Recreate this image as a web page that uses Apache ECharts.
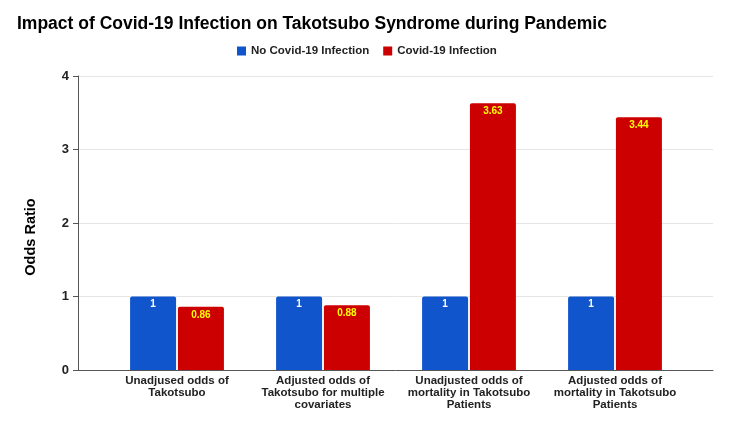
<!DOCTYPE html>
<html><head><meta charset="utf-8">
<script src="https://cdn.jsdelivr.net/npm/echarts@6/dist/echarts.min.js"></script>
<style>html,body{margin:0;padding:0;background:#fff}#c{width:750px;height:427px}</style>
</head><body><div id="c"></div>
<script>
const categories = ["Unadjused odds of\nTakotsubo", "Adjusted odds of\nTakotsubo for multiple\ncovariates", "Unadjusted odds of\nmortality in Takotsubo\nPatients", "Adjusted odds of\nmortality in Takotsubo\nPatients"];
const noCovid = [1, 1, 1, 1];
const covid = [0.86, 0.88, 3.63, 3.44];
const yTicks = [0, 1, 2, 3, 4];
const FONT = '"Liberation Sans", Arial, sans-serif';
const chart = echarts.init(document.getElementById('c'), null, {renderer: 'canvas'});
chart.setOption({
  animation: false,
  textStyle: {fontFamily: FONT},
  title: {text: 'Impact of Covid-19 Infection on Takotsubo Syndrome during Pandemic', left: 12, top: 10,
    textStyle: {fontFamily: FONT, fontSize: 17.5, fontWeight: 'bold', color: '#000'}},
  legend: {top: 40, left: 232, itemWidth: 9, itemHeight: 9, itemGap: 14, icon: 'rect',
    textStyle: {fontFamily: FONT, fontSize: 11.5, fontWeight: 'bold', color: '#222'},
    data: ['No Covid-19 Infection', 'Covid-19 Infection']},
  grid: [
    {left: 78, right: 37, top: 76, bottom: 57},
    {left: 104, right: 62, top: 76, bottom: 57}
  ],
  xAxis: [
    {type: 'value', gridIndex: 0, min: 0, max: 1, axisLine: {show: true, onZero: false, lineStyle: {color: '#555', width: 1}},
     axisTick: {show: false}, axisLabel: {show: false}, splitLine: {show: false}},
    {type: 'category', gridIndex: 1, data: categories, axisLine: {show: false}, axisTick: {show: false},
     axisLabel: {interval: 0, margin: 5, fontFamily: FONT, fontSize: 11.5, fontWeight: 'bold', color: '#222', lineHeight: 12}}
  ],
  yAxis: [
    {type: 'value', gridIndex: 0, min: 0, max: 4, interval: 1, name: 'Odds Ratio', nameLocation: 'middle', nameGap: 40,
     nameTextStyle: {fontFamily: FONT, fontSize: 14.5, fontWeight: 'bold', color: '#000', padding: [0, 28, 0, 0]},
     axisLine: {show: true, lineStyle: {color: '#555'}}, axisTick: {show: true, length: 5, lineStyle: {color: '#555'}},
     axisLabel: {margin: 9, fontFamily: FONT, fontSize: 13, fontWeight: 'bold', color: '#222',
       formatter: v => yTicks.includes(v) ? String(v) : ''},
     splitLine: {show: true, lineStyle: {color: '#e6e6e6'}}},
    {type: 'value', gridIndex: 1, min: 0, max: 4, interval: 1, show: false}
  ],
  series: [
    {name: 'No Covid-19 Infection', type: 'bar', xAxisIndex: 1, yAxisIndex: 1, data: noCovid, barWidth: 46, barGap: '4%',
     itemStyle: {color: '#1155cc', borderRadius: [2, 2, 0, 0]},
     label: {show: true, position: 'insideTop', distance: 3, color: '#fff', fontFamily: FONT, fontSize: 10, fontWeight: 'bold'}},
    {name: 'Covid-19 Infection', type: 'bar', xAxisIndex: 1, yAxisIndex: 1, data: covid, barWidth: 46, barGap: '4%',
     itemStyle: {color: '#cc0000', borderRadius: [2, 2, 0, 0]},
     label: {show: true, position: 'insideTop', distance: 3, color: '#ffff00', fontFamily: FONT, fontSize: 10, fontWeight: 'bold'}}
  ]
});
</script></body></html>
